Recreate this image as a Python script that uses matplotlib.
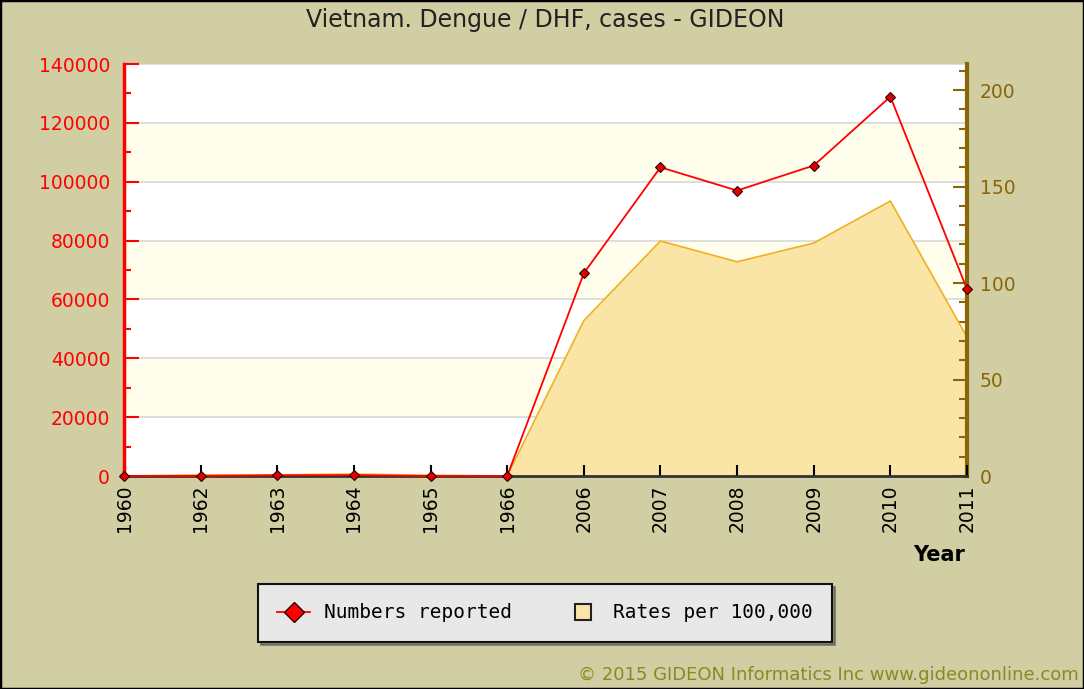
import matplotlib.pyplot as plt
from matplotlib.lines import Line2D
from matplotlib.patches import Rectangle
from matplotlib.ticker import MultipleLocator

# data
years = ['1960', '1962', '1963', '1964', '1965', '1966',
         '2006', '2007', '2008', '2009', '2010', '2011']
cases = [0, 0, 250, 300, 0, 0, 68900, 104900, 97000, 105500, 128900, 63500]
rates = [0, 0.6, 0.6, 1.0, 0.4, 0, 80.5, 121.8, 111.0, 120.7, 142.5, 72.0]

bg = '#D0CEA2'
gold = '#8B6508'

fig = plt.figure(figsize=(10.84, 6.89), dpi=100, facecolor=bg)
ax = fig.add_axes([124 / 1084, 1 - 476 / 689, 843 / 1084, 412 / 689])
ax2 = ax.twinx()
ax.set_zorder(ax2.get_zorder() + 1)
ax.patch.set_visible(False)
ax2.patch.set_visible(True)
ax2.set_facecolor('white')

x = list(range(len(years)))

# alternating bands + grid lines every 20000 cases
scale = 140000 / 213.5
for i in range(7):
    lo, hi = i * 20000, (i + 1) * 20000
    if i % 2 == 1:
        ax2.axhspan(lo / scale, hi / scale, color='#FFFDEB', zorder=0, lw=0)
    ax2.axhline(hi / scale, color='#D8D8D8', lw=1.2, zorder=0.5)

# rates area
ax2.fill_between(x, rates, color='#FAE5A6', zorder=1, lw=0)
ax2.plot(x, rates, color='#F0B020', lw=1.2, zorder=2)

# numbers line
ax.plot(x, cases, color='red', lw=1.3, marker='D', markersize=5,
        markerfacecolor='#E00000', markeredgecolor='#300000', mew=0.8,
        clip_on=False, zorder=5)

ax.set_xlim(0, len(years) - 1)
ax.set_ylim(0, 140000)
ax2.set_ylim(0, 213.5)

ax.set_xticks(x)
ax.set_xticklabels(years, rotation=90, fontsize=13.5)
ax.yaxis.set_major_locator(MultipleLocator(20000))
ax.yaxis.set_minor_locator(MultipleLocator(10000))
ax.tick_params(axis='y', which='both', colors='red', direction='in',
               labelsize=13.5, width=1.5, pad=10)
ax.tick_params(axis='y', which='major', length=11)
ax.tick_params(axis='y', which='minor', length=5)
ax.tick_params(axis='x', colors='black', direction='in', length=8, width=1.5, pad=6)

ax2.yaxis.set_major_locator(MultipleLocator(50))
ax2.yaxis.set_minor_locator(MultipleLocator(10))
ax2.tick_params(axis='y', which='both', colors=gold, direction='in',
                labelsize=13.5, width=1.5, pad=9)
ax2.tick_params(axis='y', which='major', length=10)
ax2.tick_params(axis='y', which='minor', length=6)

for a in (ax, ax2):
    a.spines['top'].set_visible(False)
ax.spines['right'].set_visible(False)
ax.spines['left'].set_color('red')
ax.spines['left'].set_linewidth(2.5)
ax.spines['bottom'].set_color('#333333')
ax.spines['bottom'].set_linewidth(2)
ax2.spines['left'].set_visible(False)
ax2.spines['bottom'].set_visible(False)
ax2.spines['right'].set_color(gold)
ax2.spines['right'].set_linewidth(3)

fig.text(0.503, 1 - 20 / 689, 'Vietnam. Dengue / DHF, cases - GIDEON',
         ha='center', va='center', fontsize=17, color='#222222')
fig.text(965 / 1084, 1 - 555 / 689, 'Year', ha='right', va='center',
         fontsize=15, fontweight='bold')
fig.text(1079 / 1084, 1 - 675 / 689, '\u00a9 2015 GIDEON Informatics Inc www.gideononline.com',
         ha='right', va='center', fontsize=13, color='#8A8A22')

handles = [Line2D([], [], color='red', lw=1.3, marker='D', markersize=10,
                  markerfacecolor='red', markeredgecolor='#300000'),
           Line2D([], [], ls='none', marker='s', markersize=12,
                  markerfacecolor='#FAE5A6', markeredgecolor='#222222', mew=1.5)]
leg = fig.legend(handles, ['Numbers reported', 'Rates per 100,000'],
                 loc='center', bbox_to_anchor=(545 / 1084, 1 - 613 / 689),
                 ncol=2, frameon=True, fancybox=False, shadow=True,
                 prop={'family': 'DejaVu Sans Mono', 'size': 14},
                 borderpad=1.0, columnspacing=2.8, handlelength=1.7,
                 handletextpad=0.7, borderaxespad=0)
leg.get_frame().set_facecolor('#E8E8E8')
leg.get_frame().set_edgecolor('#111111')
leg.get_frame().set_linewidth(1.5)
leg.get_frame().set_alpha(1)

fig.patches.append(Rectangle((0, 0), 1, 1, transform=fig.transFigure,
                             fill=False, edgecolor='black', lw=2.5))

plt.savefig('out.png', dpi=100, facecolor=bg)
